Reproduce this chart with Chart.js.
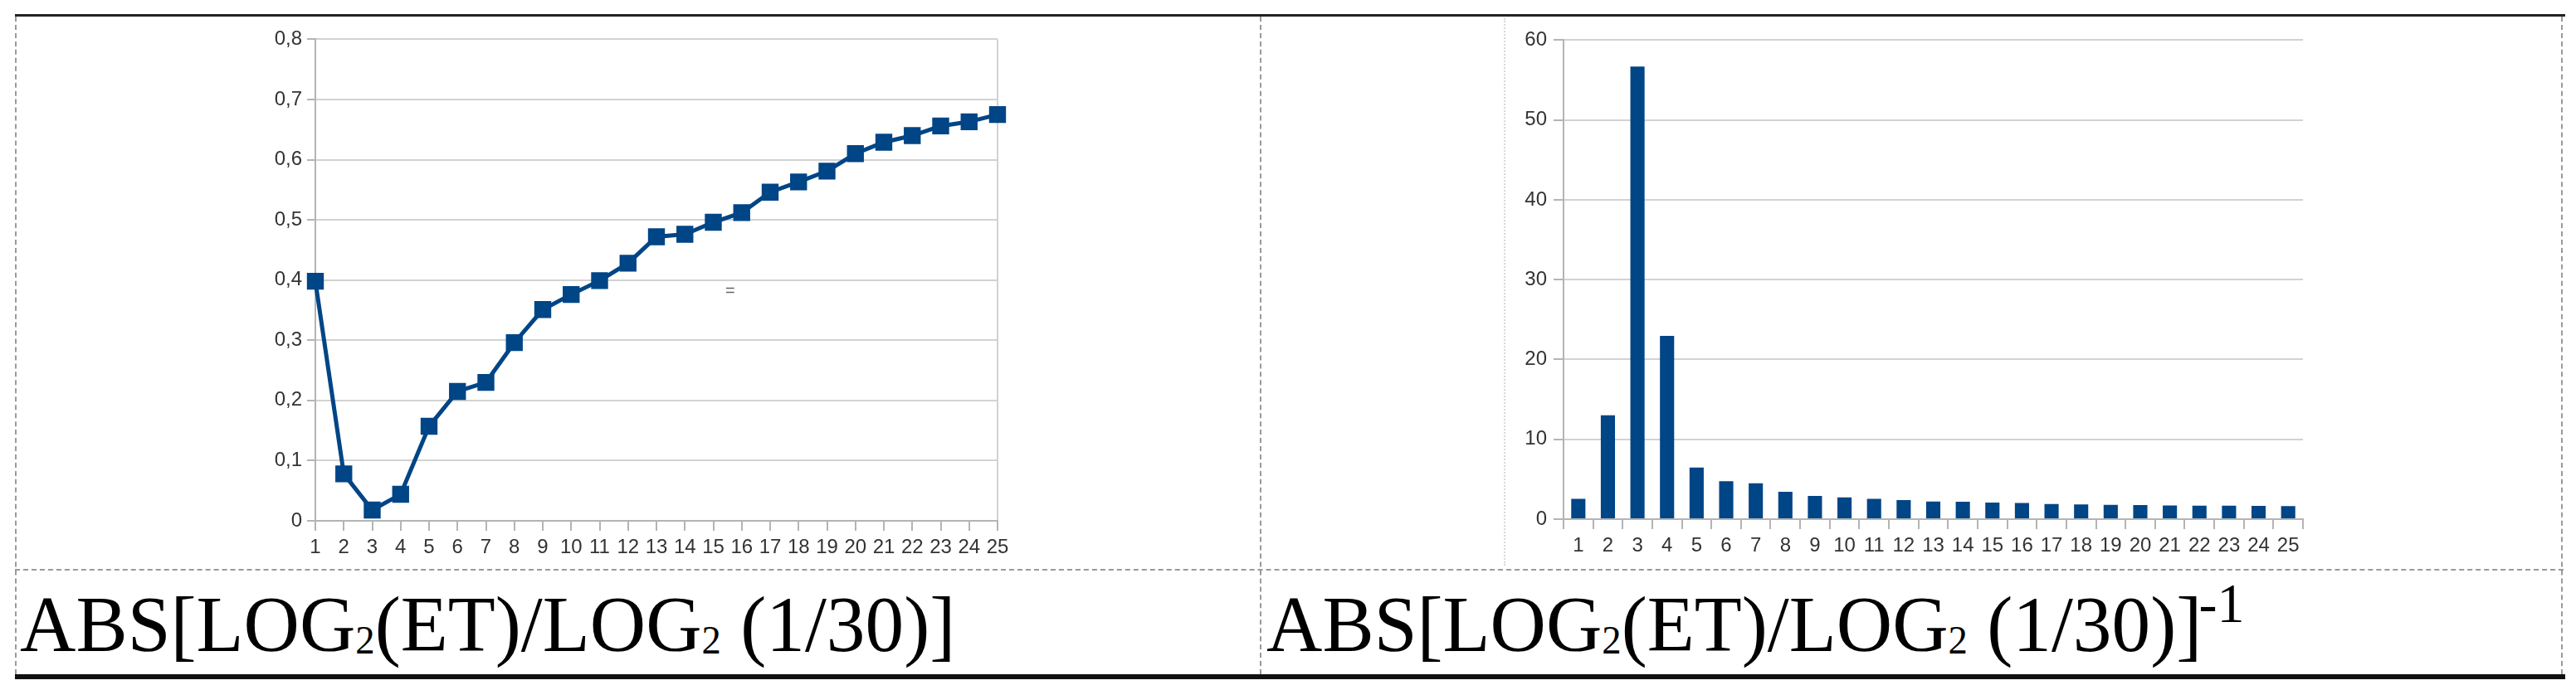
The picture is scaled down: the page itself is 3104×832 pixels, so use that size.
<!DOCTYPE html>
<html lang="en">
<head>
    <meta charset="UTF-8">
    <title>ABS[LOG2(ET)/LOG2 (1/30)]</title>
    <script src="https://cdn.jsdelivr.net/npm/chart.js"></script>
    <style>
        body {
            margin: 0;
            padding: 0;
            background: #fff;
            width: 3104px;
            height: 832px;
            position: relative;
            overflow: hidden;
        }
        .rule { position: absolute; }
        .top-rule { left: 18px; top: 17px; width: 3073px; height: 3px; background: #222; }
        .bottom-rule { left: 18px; top: 813px; width: 3073px; height: 6px; background: #111; }
        .vdash { top: 20px; height: 793px; width: 0; border-left: 2px dashed #9a9a9a; }
        .hdash { left: 18px; top: 686px; width: 3071px; height: 0; border-top: 2px dashed #9a9a9a; }
        .faint-dots { left: 1812px; top: 22px; height: 660px; width: 0; border-left: 2px dotted #d8d8d8; }
        .chart-box { position: absolute; }
        .caption {
            position: absolute;
            top: 705px;
            font-family: "Liberation Serif", "Times New Roman", serif;
            font-size: 96px;
            line-height: 96px;
            height: 96px;
            color: #000;
            white-space: nowrap;
            transform: scaleX(0.972);
            transform-origin: left top;
        }
        .caption .sub { font-size: 0.5em; line-height: 0; vertical-align: baseline; position: relative; top: 3px; }
        .caption .sup { font-size: 68px; line-height: 0; vertical-align: baseline; position: relative; top: -35px; margin-left: -4px; }
        .stray {
            position: absolute;
            left: 874px;
            top: 339px;
            font-family: "Liberation Sans", Arial, sans-serif;
            font-size: 20px;
            color: #666;
        }
    </style>
</head>
<body>

    <!-- table rules -->
    <div class="rule top-rule"></div>
    <div class="rule bottom-rule"></div>
    <div class="rule vdash" style="left:18px"></div>
    <div class="rule vdash" style="left:1518px"></div>
    <div class="rule vdash" style="left:3086px"></div>
    <div class="rule hdash"></div>
    <div class="rule faint-dots"></div>

    <!-- left: line chart -->
    <div class="chart-box" style="left:300px; top:27px; width:926px; height:661px;">
        <canvas id="ratioChart"></canvas>
    </div>
    <div class="stray">=</div>

    <!-- right: bar chart -->
    <div class="chart-box" style="left:1804px; top:26px; width:991px; height:660px;">
        <canvas id="inverseChart"></canvas>
    </div>

    <!-- captions -->
    <div class="caption" style="left:24px;">ABS[LOG<span class="sub">2</span>(ET)/LOG<span class="sub">2</span> (1/30)]</div>
    <div class="caption" style="left:1526px;">ABS[LOG<span class="sub">2</span>(ET)/LOG<span class="sub">2</span> (1/30)]<span class="sup">-1</span></div>

    <script>
        // data
        const categories = ['1', '2', '3', '4', '5', '6', '7', '8', '9', '10', '11', '12', '13',
                            '14', '15', '16', '17', '18', '19', '20', '21', '22', '23', '24', '25'];
        const ratioValues = [0.398, 0.078, 0.018, 0.044, 0.157, 0.215, 0.230, 0.296, 0.351, 0.376,
                             0.399, 0.428, 0.472, 0.476, 0.496, 0.512, 0.546, 0.563, 0.581, 0.610,
                             0.629, 0.640, 0.656, 0.663, 0.675];
        const inverseValues = [2.54, 13.0, 56.7, 22.96, 6.47, 4.76, 4.48, 3.42, 2.91, 2.72,
                               2.54, 2.40, 2.22, 2.17, 2.08, 2.03, 1.89, 1.85, 1.80, 1.76,
                               1.71, 1.70, 1.68, 1.66, 1.64];
        const ratioTicks = ['0', '0,1', '0,2', '0,3', '0,4', '0,5', '0,6', '0,7', '0,8'];
        const inverseTicks = ['0', '10', '20', '30', '40', '50', '60'];

        const blue = '#004586';
        const gridGray = '#d2d2d2';
        const axisGray = '#b4b4b4';
        const tickFont = { family: '"Liberation Sans", Arial, sans-serif', size: 24 };

        // fixed axis sizes so the plot areas land where the reference has them
        const fixWidth = w => scale => { scale.width = w; };
        const fixHeight = h => scale => { scale.height = h; };

        new Chart(document.getElementById('ratioChart'), {
            type: 'line',
            data: {
                labels: categories,
                datasets: [{
                    data: ratioValues,
                    borderColor: blue,
                    backgroundColor: blue,
                    borderWidth: 5,
                    pointStyle: 'rect',
                    pointRadius: 13,
                    pointBorderWidth: 2,
                    tension: 0
                }]
            },
            options: {
                responsive: true,
                maintainAspectRatio: false,
                animation: false,
                layout: { padding: { top: 20, right: 24, left: 0, bottom: 0 } },
                plugins: { legend: { display: false }, tooltip: { enabled: false } },
                scales: {
                    x: {
                        offset: false,
                        afterFit: fixHeight(60),
                        grid: {
                            offset: false,
                            lineWidth: 2,
                            color: ctx => ctx.index === 24 ? gridGray : 'rgba(0,0,0,0)',
                            tickColor: axisGray,
                            tickLength: 12
                        },
                        border: { color: axisGray, width: 2 },
                        ticks: { font: tickFont, color: '#333', maxRotation: 0, autoSkip: false, padding: 6 }
                    },
                    y: {
                        min: 0,
                        max: 0.8,
                        afterFit: fixWidth(80),
                        grid: { color: gridGray, lineWidth: 2, tickColor: axisGray, tickLength: 10 },
                        border: { color: axisGray, width: 2 },
                        ticks: {
                            stepSize: 0.1,
                            font: tickFont,
                            color: '#333',
                            padding: 6,
                            callback: (value, index) => ratioTicks[index]
                        }
                    }
                }
            }
        });

        new Chart(document.getElementById('inverseChart'), {
            type: 'bar',
            data: {
                labels: categories,
                datasets: [{
                    data: inverseValues,
                    backgroundColor: blue,
                    borderWidth: 0,
                    barPercentage: 0.48,
                    categoryPercentage: 1
                }]
            },
            options: {
                responsive: true,
                maintainAspectRatio: false,
                animation: false,
                layout: { padding: { top: 20, right: 20, left: 0, bottom: 0 } },
                plugins: { legend: { display: false }, tooltip: { enabled: false } },
                scales: {
                    x: {
                        afterFit: fixHeight(60),
                        grid: {
                            lineWidth: 2,
                            color: ctx => ctx.index === 25 ? gridGray : 'rgba(0,0,0,0)',
                            tickColor: axisGray,
                            tickLength: 12
                        },
                        border: { color: axisGray, width: 2 },
                        ticks: { font: tickFont, color: '#333', maxRotation: 0, autoSkip: false, padding: 6 }
                    },
                    y: {
                        min: 0,
                        max: 60,
                        afterFit: fixWidth(80),
                        grid: { color: gridGray, lineWidth: 2, tickColor: axisGray, tickLength: 12 },
                        border: { color: axisGray, width: 2 },
                        ticks: {
                            stepSize: 10,
                            font: tickFont,
                            color: '#333',
                            padding: 8,
                            callback: (value, index) => inverseTicks[index]
                        }
                    }
                }
            }
        });
    </script>

</body>
</html>
